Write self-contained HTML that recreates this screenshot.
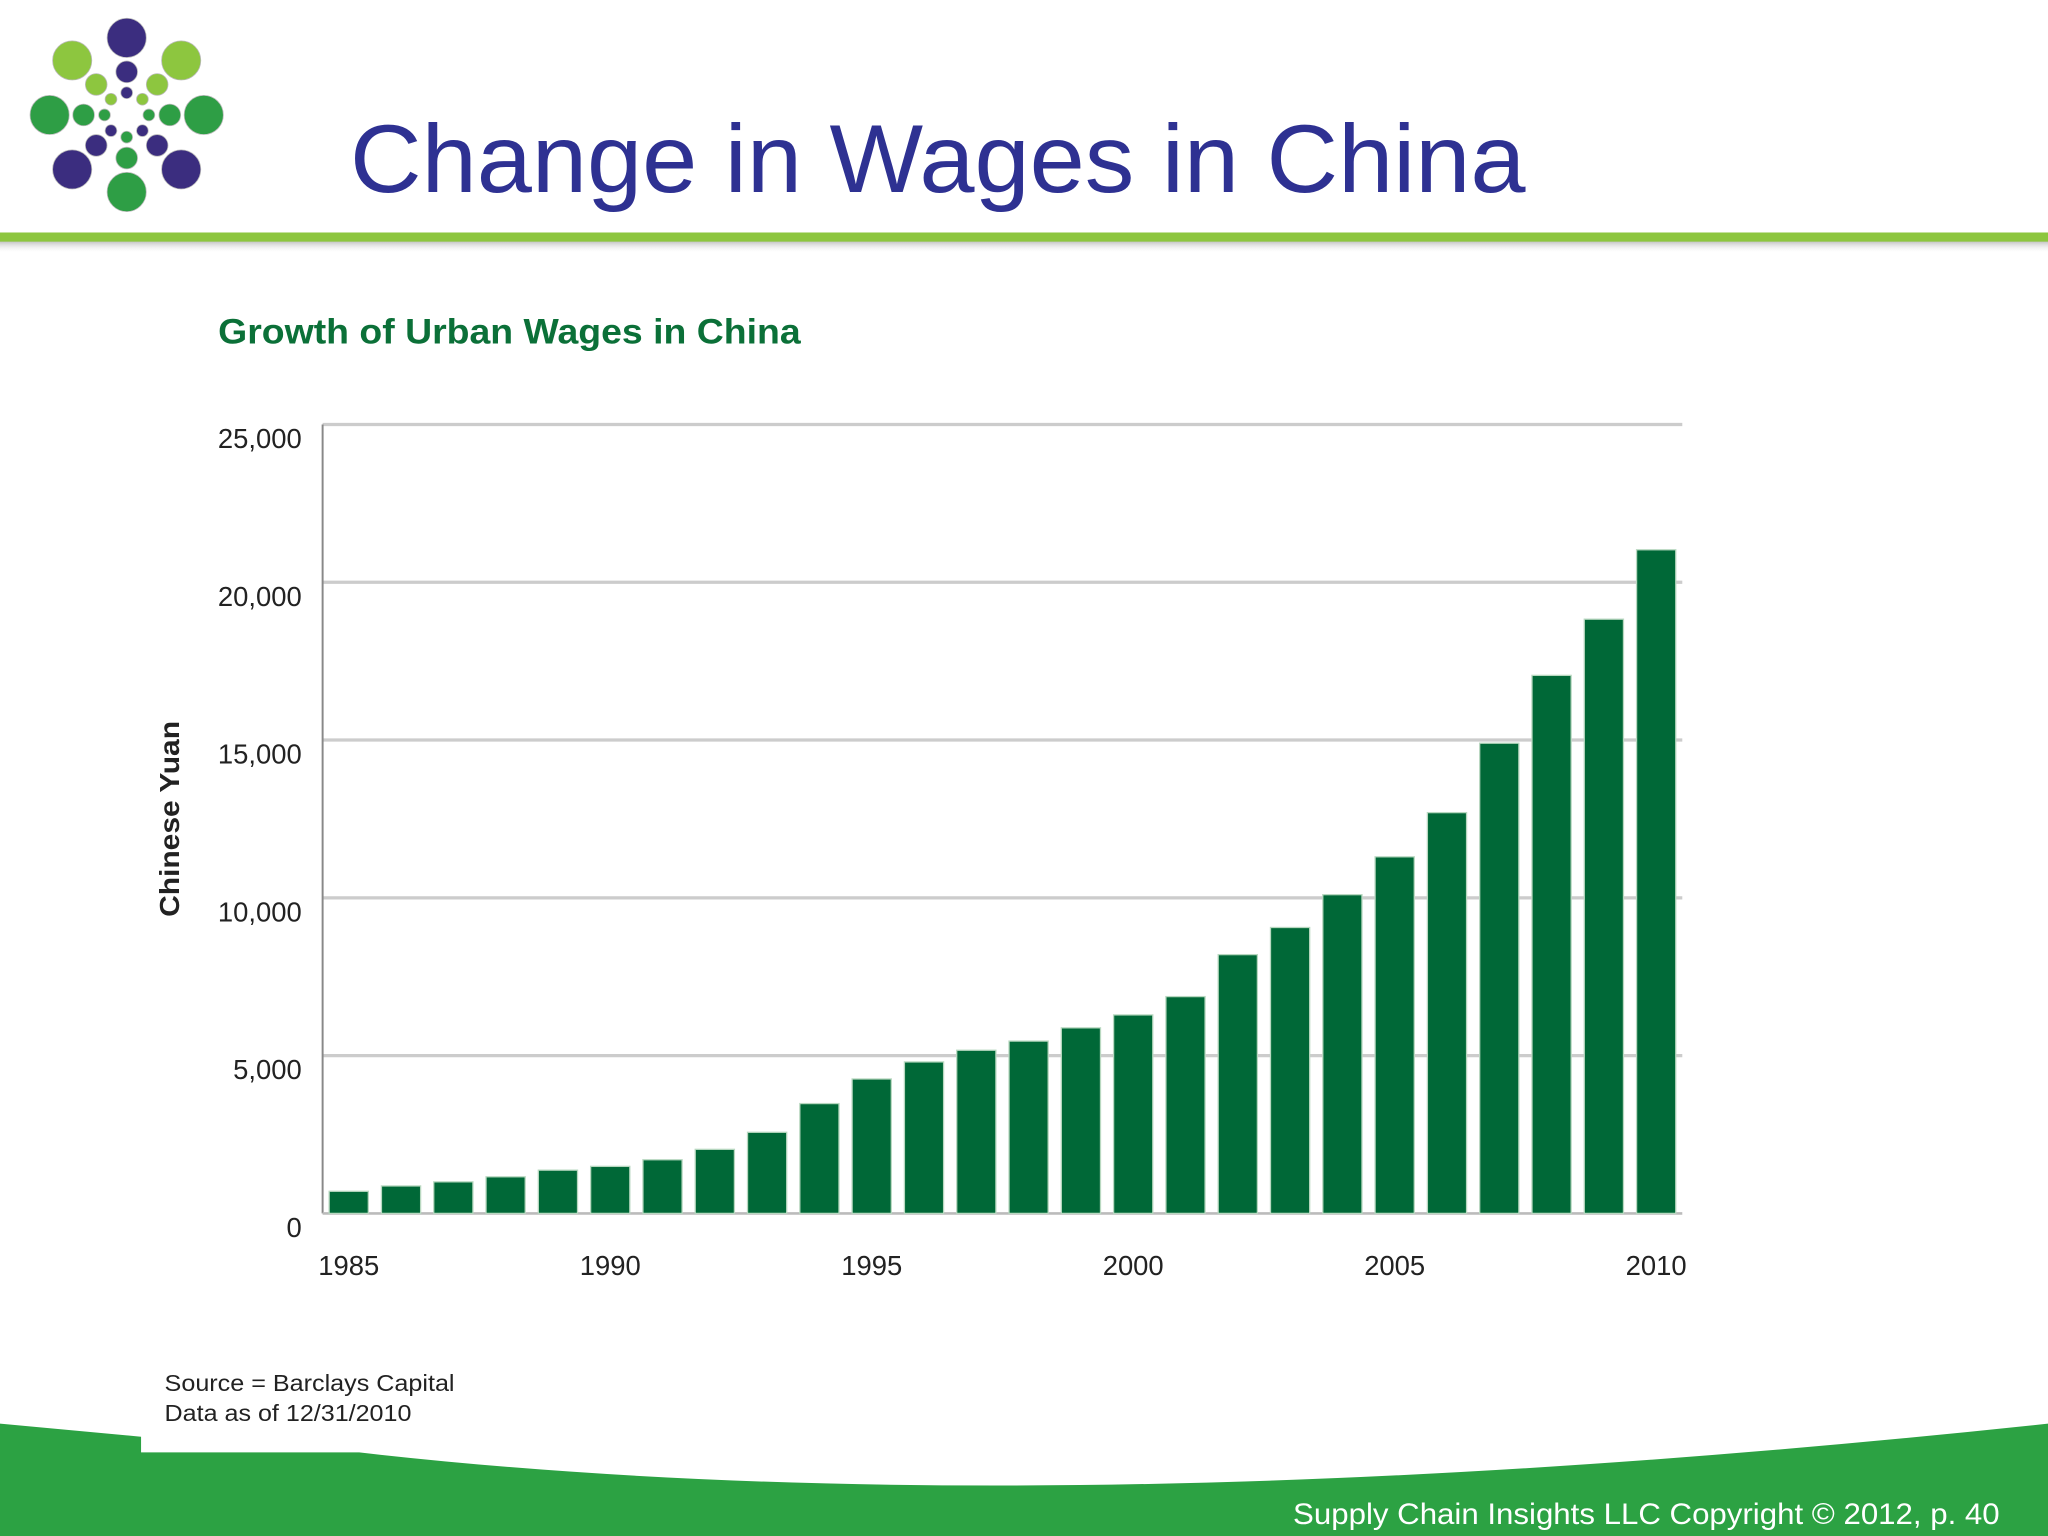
<!DOCTYPE html>
<html><head><meta charset="utf-8"><style>
html,body{margin:0;padding:0;background:#fff;}
svg{display:block;font-family:"Liberation Sans",Arial,sans-serif;}
</style></head><body>
<svg id="slide" width="2048" height="1536" viewBox="0 0 1568 1176" xmlns="http://www.w3.org/2000/svg">
<defs>
<linearGradient id="shadow" x1="0" y1="0" x2="0" y2="1"><stop offset="0" stop-color="#999" stop-opacity="0.7"/><stop offset="1" stop-color="#fff" stop-opacity="0"/></linearGradient>
</defs>
<g id="logo"></g>
<text x="268" y="147" font-size="74" fill="#2e3192" textLength="900" lengthAdjust="spacingAndGlyphs">Change in Wages in China</text>
<rect x="0" y="184" width="1568" height="10" fill="url(#shadow)"/>
<rect x="0" y="178" width="1568" height="7" fill="#8dc63f"/>
<text x="167" y="263" font-size="27" font-weight="bold" fill="#0b7038" textLength="446" lengthAdjust="spacingAndGlyphs">Growth of Urban Wages in China</text>
<text transform="translate(137,627) rotate(-90)" text-anchor="middle" font-size="21" font-weight="bold" fill="#222" textLength="150" lengthAdjust="spacingAndGlyphs">Chinese Yuan</text>
<g id="chart"></g>
<text x="126" y="1065" font-size="18" fill="#222" textLength="222" lengthAdjust="spacingAndGlyphs">Source = Barclays Capital</text>
<text x="126" y="1088" font-size="18" fill="#222" textLength="189" lengthAdjust="spacingAndGlyphs">Data as of 12/31/2010</text>
<path d="M0,1090 L108,1100 L108,1112 L275,1112 Q800,1172 1568,1090 L1568,1176 L0,1176 Z" fill="#2ca243"/>
<text x="990" y="1167" font-size="23" fill="#fff" textLength="541" lengthAdjust="spacingAndGlyphs">Supply Chain Insights LLC Copyright © 2012, p. 40</text>
</svg>
<script>
const years = [1985,1986,1987,1988,1989,1990,1991,1992,1993,1994,1995,1996,1997,1998,1999,2000,2001,2002,2003,2004,2005,2006,2007,2008,2009,2010];
const wages = [700,870,1000,1160,1370,1490,1700,2030,2570,3480,4260,4800,5170,5460,5880,6290,6870,8200,9060,10100,11300,12700,14900,17050,18830,21030];
const yTicks = [0,5000,10000,15000,20000,25000];
const xTickYears = [1985,1990,1995,2000,2005,2010];

const NS = "http://www.w3.org/2000/svg";
function mk(tag, attrs, parent){const e=document.createElementNS(NS,tag);for(const k in attrs)e.setAttribute(k,attrs[k]);parent.appendChild(e);return e;}

const logo=document.getElementById('logo');
const cx=97,cy=88;
const cols=["#3b2d7f","#8dc63f","#2e9e45","#3b2d7f","#2e9e45","#3b2d7f","#2e9e45","#8dc63f"];
[[59,15],[33,8.3],[17,4.5]].forEach(([d,r])=>{
  cols.forEach((c,i)=>{
    const a=-Math.PI/2+i*Math.PI/4;
    const ci=mk('circle',{cx:cx+d*Math.cos(a),cy:cy+d*Math.sin(a),r:r,fill:c,stroke:"#bbb","stroke-width":0.6},logo);
    
    
  });
});

const g=document.getElementById('chart');
const L=247,R=1288,T=325,B=929,ymax=25000;
const y=v=>B-(v/ymax)*(B-T);
const x0=267,step=(1268-267)/25;
const x=yr=>x0+(yr-1985)*step;
yTicks.forEach(t=>{
  if(t>0){const ln=mk('line',{x1:L,x2:R,y1:y(t),y2:y(t),stroke:"#ccc","stroke-width":2.5},g);
  
  }
  const tx=mk('text',{x:231,y:y(t)+18,"text-anchor":"end","font-size":21,fill:"#222"},g);
  tx.textContent=t.toLocaleString('en-US');
  
  
});
const ax=mk('line',{x1:L,x2:L,y1:T,y2:B,stroke:"#888","stroke-width":1.5},g);


const bx=mk('line',{x1:L,x2:R,y1:B,y2:B,stroke:"#bbb","stroke-width":2},g);


years.forEach((yr,i)=>{
  const b=mk('rect',{x:x(yr)-15,y:y(wages[i]),width:30,height:B-y(wages[i]),fill:"#006837",stroke:"#b8d8c0","stroke-width":1},g);
  
  
});
xTickYears.forEach(yr=>{
  const tx=mk('text',{x:x(yr),y:976,"text-anchor":"middle","font-size":21,fill:"#222"},g);
  tx.textContent=yr;
  
  
});
</script>
</body></html>
